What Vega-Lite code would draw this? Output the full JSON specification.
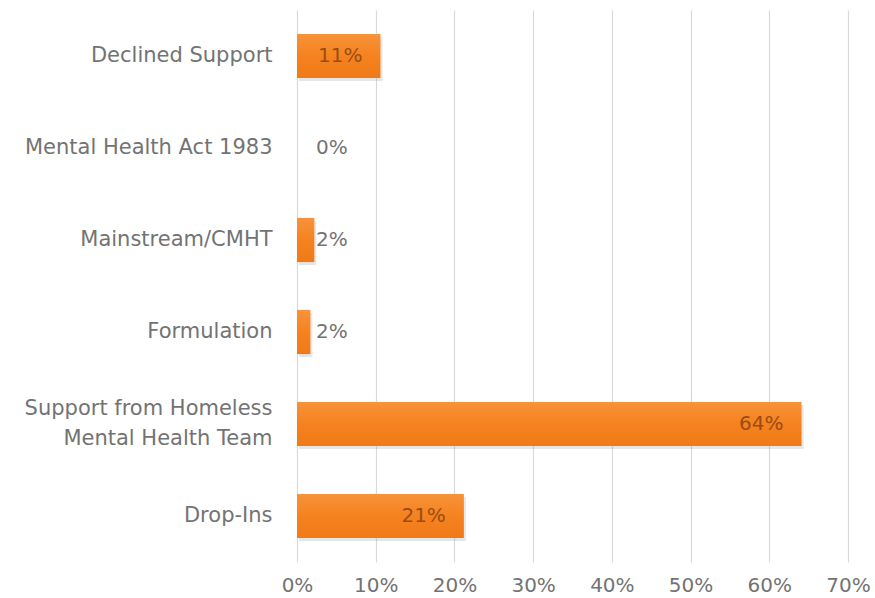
{
  "$schema": "https://vega.github.io/schema/vega-lite/v6.json",
  "width": 551,
  "height": 552,
  "autosize": "none",
  "padding": {"left": 297, "top": 10, "right": 27, "bottom": 36},
  "background": "white",
  "config": {"view": {"stroke": null}, "font": "DejaVu Sans"},
  "data": {"values": [
    {"category": "Declined Support", "value": 0.106, "label": "11%"},
    {"category": "Mental Health Act 1983", "value": 0.0, "label": "0%"},
    {"category": "Mainstream/CMHT", "value": 0.022, "label": "2%"},
    {"category": "Formulation", "value": 0.017, "label": "2%"},
    {"category": "Support from Homeless Mental Health Team", "value": 0.641, "label": "64%"},
    {"category": "Drop-Ins", "value": 0.212, "label": "21%"}
  ]},
  "encoding": {
    "y": {
      "field": "category", "type": "nominal",
      "sort": ["Declined Support", "Mental Health Act 1983", "Mainstream/CMHT", "Formulation", "Support from Homeless Mental Health Team", "Drop-Ins"],
      "scale": {"paddingInner": 0.52, "paddingOuter": 0.26},
      "axis": {
        "title": null, "ticks": false, "domain": false, "labelPadding": 25,
        "labelFontSize": 21, "labelColor": "#737373", "labelFont": "DejaVu Sans",
        "labelLineHeight": 30, "labelLimit": 400,
        "labelOffset": {"condition": {"test": "datum.value == 'Support from Homeless Mental Health Team'", "value": -15}, "value": 0},
        "labelExpr": "datum.value == 'Support from Homeless Mental Health Team' ? ['Support from Homeless', 'Mental Health Team'] : datum.value"
      }
    }
  },
  "layer": [
    {
      "mark": {"type": "bar", "color": "#9a9a9a", "opacity": 0.25, "xOffset": 2, "yOffset": 3, "x2Offset": 2},
      "encoding": {
        "x": {"field": "value", "type": "quantitative",
          "scale": {"domain": [0, 0.7], "nice": false},
          "axis": {"title": null, "format": ".0%", "values": [0, 0.1, 0.2, 0.3, 0.4, 0.5, 0.6, 0.7],
            "grid": true, "gridColor": "#d9d9d9", "gridWidth": 1.2, "domain": false, "ticks": false, "labelFlush": false,
            "labelPadding": 13, "labelFontSize": 20, "labelColor": "#737373", "labelFont": "DejaVu Sans"}}
      }
    },
    {
      "mark": {"type": "bar", "color": {"gradient": "linear", "x1": 0, "y1": 0, "x2": 0, "y2": 1,
        "stops": [{"offset": 0, "color": "#f7933a"}, {"offset": 0.5, "color": "#f5821f"}, {"offset": 1, "color": "#ee7a18"}]}},
      "encoding": {
        "x": {"field": "value", "type": "quantitative"}
      }
    },
    {
      "transform": [{"filter": "datum.value >= 0.05"}],
      "mark": {"type": "text", "align": "right", "dx": -18, "fontSize": 20, "color": "#9a4d12", "font": "DejaVu Sans"},
      "encoding": {
        "x": {"field": "value", "type": "quantitative"},
        "text": {"field": "label"}
      }
    },
    {
      "transform": [{"filter": "datum.value < 0.05"}],
      "mark": {"type": "text", "align": "left", "dx": 19, "fontSize": 20, "color": "#737373", "font": "DejaVu Sans"},
      "encoding": {
        "x": {"datum": 0, "type": "quantitative"},
        "text": {"field": "label"}
      }
    }
  ]
}
